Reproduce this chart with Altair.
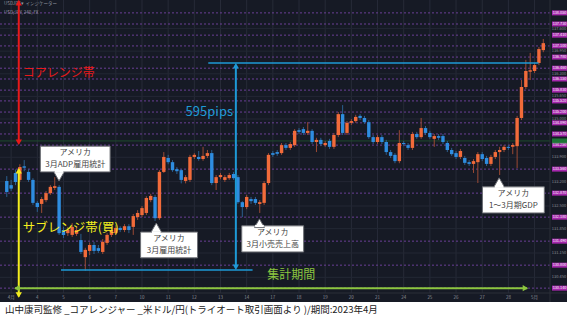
import altair as alt
import pandas as pd

# ---------------- data ----------------
# 4-hour candles, USD/JPY, April 2023 (index = candle number)
opens = [133.22, 133.10, 133.45, 133.25, 133.64, 133.48, 133.25, 132.59, 132.56, 132.67,
         132.87, 133.02, 133.05, 131.81, 131.72, 131.67, 131.70, 131.52, 131.03, 131.21,
         131.38, 131.29, 131.18, 131.44, 131.67, 131.72, 131.87, 131.81, 131.92, 131.90,
         132.18, 132.24, 132.30, 132.67, 132.76, 132.15, 133.48, 133.88, 133.76, 133.56,
         133.53, 133.22, 133.25, 133.91, 133.91, 133.85, 133.94, 134.02, 133.16, 133.33,
         133.25, 133.30, 133.42, 133.33, 132.61, 132.47, 132.70, 132.70, 132.56, 132.59,
         133.16, 134.02, 134.05, 134.02, 134.25, 134.17, 134.25, 134.68, 134.71, 134.60,
         134.66, 134.34, 134.40, 134.25, 134.37, 134.20, 134.54, 135.14, 134.60, 134.89,
         134.94, 135.09, 135.03, 134.91, 134.48, 134.34, 134.48, 134.34, 134.05, 133.97,
         133.79, 134.31, 134.25, 134.17, 134.57, 134.48, 134.74, 134.60, 134.43, 134.51,
         134.51, 134.31, 134.11, 134.02, 133.91, 133.88, 133.76, 133.71, 133.76, 133.99,
         133.88, 133.71, 133.91, 134.05, 134.11, 134.20, 134.20, 134.22, 135.03, 135.92,
         136.36, 136.38, 136.61, 136.98]
highs = [133.36, 133.25, 133.55, 133.70, 133.82, 133.56, 133.30, 132.64, 132.76, 132.93,
         133.10, 133.33, 133.10, 131.90, 131.90, 132.01, 131.90, 131.70, 131.30, 131.45,
         131.47, 131.38, 131.55, 131.72, 131.87, 131.95, 131.92, 131.98, 131.98, 132.27,
         132.38, 132.50, 132.78, 132.85, 132.82, 133.53, 134.05, 133.97, 133.82, 133.62,
         133.56, 133.39, 133.97, 134.02, 134.08, 134.20, 134.11, 134.11, 133.39, 133.45,
         133.39, 133.45, 133.48, 133.39, 132.64, 132.82, 132.76, 132.76, 132.67, 133.22,
         134.02, 134.08, 134.11, 134.31, 134.31, 134.34, 134.71, 134.74, 134.77, 134.91,
         134.71, 134.46, 134.46, 134.37, 134.43, 134.60, 135.20, 135.40, 134.94, 135.00,
         135.12, 135.14, 135.09, 134.97, 134.54, 134.54, 134.54, 134.40, 134.11, 134.02,
         134.68, 134.37, 134.31, 134.63, 134.63, 135.03, 134.80, 134.66, 134.57, 134.57,
         134.57, 134.37, 134.17, 134.08, 134.14, 133.94, 133.82, 133.85, 134.05, 134.05,
         133.94, 133.97, 134.11, 134.20, 134.25, 134.25, 134.31, 135.09, 136.12, 136.70,
         136.90, 136.61, 137.07, 137.30]
lows = [132.76, 132.93, 133.10, 133.19, 133.50, 133.19, 132.53, 132.33, 132.30, 132.61,
        132.82, 132.96, 131.67, 131.58, 131.64, 131.61, 131.64, 131.12, 130.64, 131.09,
        131.12, 131.15, 131.12, 131.38, 131.61, 131.67, 131.75, 131.75, 131.72, 131.67,
        132.10, 132.18, 132.24, 132.61, 132.07, 132.10, 133.45, 133.70, 133.48, 133.42,
        133.15, 133.15, 133.19, 133.85, 133.80, 133.80, 133.88, 133.10, 132.96, 133.27,
        133.19, 133.25, 133.25, 132.56, 132.18, 132.41, 132.56, 132.53, 132.30, 132.53,
        133.10, 133.91, 133.94, 133.97, 134.11, 134.11, 134.20, 134.57, 134.54, 134.54,
        134.28, 134.05, 134.22, 134.20, 134.14, 134.14, 134.48, 134.54, 134.54, 134.83,
        134.89, 134.97, 134.86, 134.43, 134.28, 134.28, 134.28, 133.97, 133.88, 133.73,
        133.73, 134.22, 134.11, 134.11, 134.43, 134.43, 134.54, 134.43, 134.20, 134.40,
        134.28, 134.05, 133.94, 133.85, 133.85, 133.68, 133.65, 133.45, 133.16, 133.79,
        133.65, 133.65, 133.85, 133.39, 134.05, 134.11, 133.99, 133.59, 134.97, 135.86,
        136.12, 136.32, 136.55, 136.92]
closes = [132.90, 133.00, 133.19, 133.62, 133.60, 133.25, 132.59, 132.47, 132.70, 132.87,
          133.05, 133.07, 131.72, 131.67, 131.81, 131.90, 131.81, 131.18, 131.24, 131.38,
          131.21, 131.21, 131.47, 131.67, 131.81, 131.87, 131.81, 131.92, 131.81, 132.21,
          132.30, 132.44, 132.73, 132.79, 132.15, 133.48, 133.91, 133.76, 133.53, 133.50,
          133.25, 133.33, 133.91, 133.97, 133.85, 133.94, 134.02, 133.16, 133.33, 133.39,
          133.33, 133.39, 133.30, 132.61, 132.47, 132.76, 132.64, 132.59, 132.61, 133.16,
          133.97, 133.97, 134.00, 134.25, 134.17, 134.28, 134.66, 134.63, 134.60, 134.66,
          134.34, 134.40, 134.28, 134.31, 134.20, 134.54, 135.14, 134.60, 134.89, 134.94,
          135.06, 135.03, 134.91, 134.48, 134.34, 134.48, 134.34, 134.05, 133.94, 133.79,
          134.31, 134.28, 134.17, 134.57, 134.48, 134.74, 134.60, 134.48, 134.51, 134.46,
          134.34, 134.11, 133.99, 133.91, 134.08, 133.74, 133.71, 133.79, 133.99, 133.85,
          133.71, 133.91, 134.05, 134.11, 134.20, 134.17, 134.25, 135.03, 135.92, 136.38,
          136.40, 136.55, 137.01, 137.18]

# horizontal level lines (purple dashed) with their magenta price tags
level_prices = [138.05, 137.73, 137.41, 137.10, 136.78, 136.46, 136.15, 135.83, 135.52,
                135.20, 134.89, 134.57, 134.25, 133.56, 132.87, 132.18, 131.49, 130.80, 130.14]
# grey axis tick labels
tick_prices = [137.60, 136.95, 136.30, 135.65, 135.00, 133.90, 133.20, 132.50, 131.85,
               131.15, 130.45]
# day labels on the time axis (candle index of the first candle of the day)
day_index = [1, 7, 13, 19, 25, 31, 37, 43, 49, 55, 61, 67, 73, 79, 85, 91, 97, 103, 109, 115, 121]
day_labels = ["4月", "4", "5", "6", "7", "10", "11", "12", "13", "14", "17", "18", "19", "20",
              "21", "24", "25", "26", "27", "28", "5月"]
caption = "山中康司監修 _コアレンジャー _米ドル/円(トライオート取引画面より )/期間:2023年4月"

# ---------------- styling ----------------
BG = "#161a25"
UP, DOWN = "#f26b3a", "#2e8de0"
UPW, DOWNW = "#9b4a34", "#2b5f8f"
RED, YEL, GRN, CYAN = "#e8191a", "#f4ee1e", "#8cc63f", "#1e9ad6"
FONT = "Noto Sans CJK JP"

xs = alt.Scale(domain=[-0.405, 127.29], nice=False, zero=False)
ys = alt.Scale(domain=[129.253, 138.42], nice=False, zero=False)

candles = pd.DataFrame({"k": list(range(len(opens))), "o": opens, "h": highs, "l": lows, "c": closes})
one = pd.DataFrame({"a": [0]})


def X(f):
    return alt.X(f, type="quantitative", scale=xs, axis=None)


def Y(f):
    return alt.Y(f, type="quantitative", scale=ys, axis=None)


def dx(v):
    return alt.XDatum(v, type="quantitative", scale=xs, axis=None)


def dy(v):
    return alt.YDatum(v, type="quantitative", scale=ys, axis=None)


layers = []

# background
layers.append(alt.Chart(one).mark_rect(color=BG).encode(
    x=alt.value(0), x2=alt.value(567), y=alt.value(0), y2=alt.value(302)))

# vertical day grid lines
days = pd.DataFrame({"k": day_index, "t": day_labels})
layers.append(alt.Chart(days).mark_rule(color="#272b38", strokeWidth=1).encode(
    x=X("k"), y=alt.value(0), y2=alt.value(293)))

# faint horizontal grid
ticks = pd.DataFrame({"p": tick_prices})
layers.append(alt.Chart(ticks).mark_rule(color="#232734", strokeWidth=1).encode(
    y=Y("p"), x=alt.value(0), x2=alt.value(550)))

# purple dashed level lines
levels = pd.DataFrame({"p": level_prices})
layers.append(alt.Chart(levels).mark_rule(color="#6a3f96", strokeWidth=1, strokeDash=[2, 2]).encode(
    y=Y("p"), x=alt.value(0), x2=alt.value(550)))

# faint green line
layers.append(alt.Chart(one).mark_rule(color="#1f4a2e", strokeWidth=1).encode(
    y=dy(134.37), x=alt.value(0), x2=alt.value(550)))

# candle wicks and bodies
base = alt.Chart(candles).transform_calculate(
    bc=f"datum.c >= datum.o ? '{UP}' : '{DOWN}'",
    wc=f"datum.c >= datum.o ? '{UPW}' : '{DOWNW}'")
layers.append(base.mark_rule(strokeWidth=1).encode(
    x=X("k"), y=Y("l"), y2=alt.Y2("h"), color=alt.Color("wc:N", scale=None)))
layers.append(base.mark_bar(size=3.4).encode(
    x=X("k"), y=Y("o"), y2=alt.Y2("c"), color=alt.Color("bc:N", scale=None)))

# axis separators
layers.append(alt.Chart(one).mark_rule(color="#2a2e39").encode(
    x=alt.value(550), y=alt.value(0), y2=alt.value(302)))
layers.append(alt.Chart(one).mark_rule(color="#2a2e39").encode(
    y=alt.value(293), x=alt.value(0), x2=alt.value(567)))

# day labels
layers.append(alt.Chart(days).mark_text(fontSize=4.5, color="#8a8d96", font=FONT).encode(
    x=X("k"), y=alt.value(297.5), text="t:N"))

# grey axis labels
layers.append(alt.Chart(ticks).transform_calculate(t="format(datum.p, '.3f')").mark_text(
    fontSize=4, color="#8a8d96", font=FONT).encode(y=Y("p"), x=alt.value(559), text="t:N"))

# magenta tags
layers.append(alt.Chart(levels).mark_tick(orient="horizontal", size=15, thickness=5, color="#e22ee6").encode(
    y=Y("p"), x=alt.value(559.5)))
layers.append(alt.Chart(levels).transform_calculate(t="format(datum.p, '.3f')").mark_text(
    fontSize=3.8, color="#ffffff", font=FONT).encode(y=Y("p"), x=alt.value(559.5), text="t:N"))
# green tag
layers.append(alt.Chart(one).mark_tick(orient="horizontal", size=15, thickness=5, color="#1f9e3c").encode(
    y=dy(134.37), x=alt.value(559.5)))

# header text
layers.append(alt.Chart(one).mark_text(fontSize=4.5, color="#9598a1", align="left", font=FONT,
                                       text="USDJPY   ▾   インジケーター").encode(x=alt.value(4), y=alt.value(4)))
layers.append(alt.Chart(one).mark_text(fontSize=4.5, color="#9598a1", align="left", font=FONT,
                                       text="USD/JPY, 240, FX").encode(x=alt.value(4), y=alt.value(13)))


def seg(k1, p1, k2, p2, color, w):
    return alt.Chart(one).mark_rule(color=color, strokeWidth=w).encode(
        x=dx(k1), y=dy(p1), x2=alt.datum(k2), y2=alt.datum(p2))


def head(k, p, shape, color, size):
    return alt.Chart(one).mark_point(shape=shape, filled=True, color=color, size=size, opacity=1).encode(
        x=dx(k), y=dy(p))


# cyan range lines & arrow
layers.append(seg(46.2, 136.61, 121.9, 136.61, CYAN, 1.5))
layers.append(seg(12.43, 130.66, 56.35, 130.66, CYAN, 1.5))
layers.append(seg(52.52, 136.55, 52.52, 130.72, CYAN, 2))
layers.append(head(52.52, 136.53, "triangle-up", CYAN, 40))
layers.append(head(52.52, 130.74, "triangle-down", CYAN, 40))

# red arrow (core range)
layers.append(seg(2.75, 138.4, 2.75, 134.3, RED, 2))
layers.append(head(2.75, 138.34, "triangle-up", RED, 40))
layers.append(head(2.75, 134.33, "triangle-down", RED, 40))

# yellow arrow (sub range)
layers.append(seg(2.75, 133.55, 2.75, 129.9, YEL, 2))
layers.append(head(2.75, 133.51, "triangle-up", YEL, 40))
layers.append(head(2.75, 129.94, "triangle-down", YEL, 40))

# green arrow (period)
layers.append(seg(1.9, 130.14, 119.3, 130.14, GRN, 2))
layers.append(head(2.3, 130.14, "triangle-left", GRN, 40))
layers.append(head(118.9, 130.14, "triangle-right", GRN, 40))


def label(k, p, text, color, size, align="left"):
    return alt.Chart(one).mark_text(text=text, color=color, fontSize=size, align=align,
                                    baseline="middle", font=FONT).encode(x=dx(k), y=dy(p))


layers.append(label(3.65, 136.32, "コアレンジ帯", RED, 12))
layers.append(label(41.0, 135.20, "595pips", CYAN, 13))
layers.append(label(3.65, 131.87, "サブレンジ帯(買)", YEL, 12.5))
layers.append(label(59.7, 130.52, "集計期間", GRN, 12))


def callout(k1, k2, p1, p2, tk, tp, up, lines, tc, tp1, tp2):
    out = []
    out.append(alt.Chart(one).mark_rect(fill="white", stroke="#6d6f75", strokeWidth=1).encode(
        x=dx(k1), x2=alt.datum(k2), y=dy(p1), y2=alt.datum(p2)))
    shape = "triangle-up" if up else "triangle-down"
    cp = tp - 0.125 if up else tp + 0.125
    out.append(alt.Chart(one).mark_point(shape=shape, filled=True, fill="white", stroke="#6d6f75",
                                         strokeWidth=1, size=100, opacity=1).encode(x=dx(tk), y=dy(cp)))
    edge = p1 if up else p2
    out.append(alt.Chart(one).mark_rule(color="white", strokeWidth=2).encode(
        x=dx(tk - 1.0), x2=alt.datum(tk + 1.0), y=dy(edge), y2=alt.datum(edge)))
    out.append(alt.Chart(one).mark_text(text=lines[0], color="#444444", fontSize=8, font=FONT,
                                        baseline="middle").encode(x=dx(tc), y=dy(tp1)))
    out.append(alt.Chart(one).mark_text(text=lines[1], color="#444444", fontSize=8, font=FONT,
                                        baseline="middle").encode(x=dx(tc), y=dy(tp2)))
    return out


layers += callout(7.70, 23.69, 134.22, 133.48, 11.98, 133.22, False,
                  ["アメリカ", "3月ADP雇用統計"], 15.7, 134.02, 133.68)
layers += callout(30.68, 43.74, 131.75, 131.01, 34.28, 132.01, True,
                  ["アメリカ", "3月雇用統計"], 37.2, 131.55, 131.21)
layers += callout(53.87, 68.06, 131.93, 131.18, 57.93, 132.13, True,
                  ["アメリカ", "3月小売売上高"], 60.97, 131.72, 131.38)
layers += callout(109.05, 123.24, 133.05, 132.30, 112.88, 133.31, True,
                  ["アメリカ", "1〜3月期GDP"], 116.15, 132.85, 132.50)

# caption
layers.append(alt.Chart(one).mark_text(text=caption, color="#222222", fontSize=9.5, align="left",
                                       baseline="middle", font=FONT).encode(x=alt.value(5), y=alt.value(310)))

chart = alt.layer(*layers).properties(
    width=567, height=319, padding=0, autosize=alt.AutoSizeParams(type="none"),
    background="#ffffff"
).configure_view(stroke=None)

chart.save("out.html", embed_options={"renderer": "svg", "actions": False})
